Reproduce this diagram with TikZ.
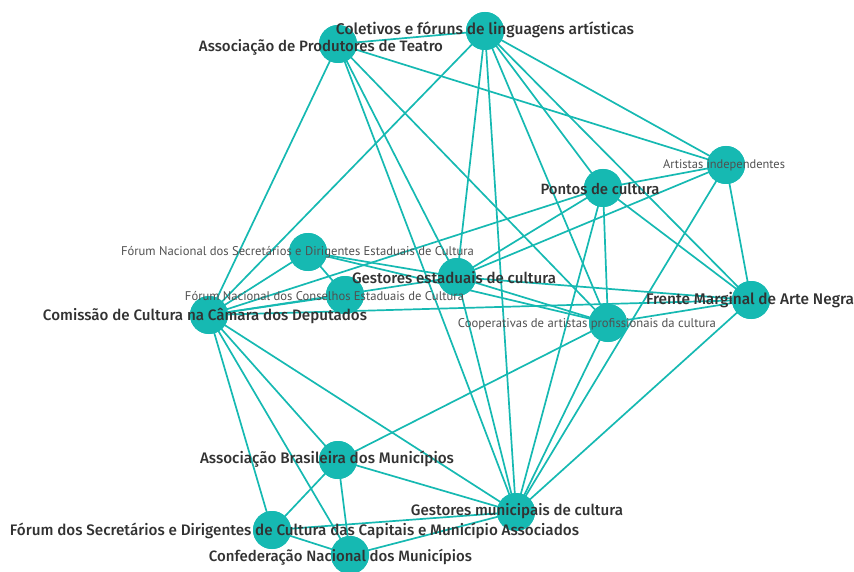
\documentclass[tikz,border=0pt]{standalone}
\usepackage{fontspec}
\usepackage{graphicx}
\setmainfont{Fira Sans}
\newfontfamily\medfont{Fira Sans Medium}
\newfontfamily\smallfont{PT Sans}
\definecolor{teal1}{RGB}{22,185,178}
\definecolor{bigtxt}{RGB}{50,50,50}
\definecolor{smalltxt}{RGB}{80,80,80}
\newcommand{\fitw}[2]{\resizebox{#1pt}{!}{#2}}
\begin{document}
\begin{tikzpicture}[x=1pt,y=-1pt,
  vert/.style={circle,fill=teal1,minimum size=38pt,inner sep=0pt},
  edge/.style={draw=teal1,line width=1.7pt},
  biglab/.style={inner sep=0pt,text=bigtxt,font=\medfont},
  smalllab/.style={inner sep=0pt,text=smalltxt,font=\smallfont}]
\useasboundingbox (0,0) rectangle (854,572);
\clip (0,0) rectangle (854,572);
% vertices
\node[vert] (APT) at (338,44) {};
\node[vert] (CFL) at (485,31) {};
\node[vert] (AI) at (726,165) {};
\node[vert] (PC) at (603,188) {};
\node[vert] (FNSD) at (308,252) {};
\node[vert] (GE) at (457,277) {};
\node[vert] (FNC) at (345,295) {};
\node[vert] (CCD) at (209,315) {};
\node[vert] (FMAN) at (751,300) {};
\node[vert] (CAP) at (608,323) {};
\node[vert] (ABM) at (338,460) {};
\node[vert] (GM) at (516,512) {};
\node[vert] (FSDC) at (272,530) {};
\node[vert] (CNM) at (350,555) {};
% edges
\foreach \a/\b in {APT/CFL,APT/AI,APT/CCD,APT/GM,APT/GE,APT/CAP,
  CFL/CCD,CFL/GE,CFL/GM,CFL/CAP,CFL/PC,CFL/FMAN,CFL/AI,
  PC/AI,PC/CCD,PC/GE,PC/CAP,PC/GM,PC/FMAN,
  AI/GE,AI/FMAN,AI/GM,
  FMAN/GE,FMAN/CCD,FMAN/CAP,FMAN/GM,
  CCD/FNSD,CCD/GE,CCD/FNC,CCD/ABM,CCD/FSDC,CCD/CNM,CCD/GM,
  FNSD/FNC,FNSD/GE,FNSD/CAP,GE/CAP,GE/GM,
  CAP/ABM,CAP/GM,ABM/GM,ABM/FSDC,ABM/CNM,FSDC/GM,FSDC/CNM,CNM/GM}
  \draw[edge] (\a.center) -- (\b.center);
% redraw vertices above edges
\foreach \v in {APT,CFL,AI,PC,FNSD,GE,FNC,CCD,FMAN,CAP,ABM,GM,FSDC,CNM}
  \fill[teal1] (\v.center) circle (19pt);
% labels
\node[biglab] (APTl) at (321,47) {\fitw{244}{Associação de Produtores de Teatro}};
\node[biglab] (CFLl) at (485,30) {\fitw{298}{Coletivos e fóruns de linguagens artísticas}};
\node[smalllab] (AIl) at (724,165) {\fitw{122}{Artistas independentes}};
\node[biglab] (PCl) at (600,189) {\fitw{119}{Pontos de cultura}};
\node[smalllab] (FNSDl) at (297.5,252) {\fitw{353}{Fórum Nacional dos Secretários e Dirigentes Estaduais de Cultura}};
\node[biglab] (GEl) at (454,278) {\fitw{204}{Gestores estaduais de cultura}};
\node[smalllab] (FNCl) at (324.5,296) {\fitw{279}{Fórum Nacional dos Conselhos Estaduais de Cultura}};
\node[biglab] (CCDl) at (205,316) {\fitw{324}{Comissão de Cultura na Câmara dos Deputados}};
\node[biglab] (FMANl) at (750,300) {\fitw{208}{Frente Marginal de Arte Negra}};
\node[smalllab] (CAPl) at (587,324) {\fitw{258}{Cooperativas de artistas profissionais da cultura}};
\node[biglab] (ABMl) at (327,459) {\fitw{254}{Associação Brasileira dos Municípios}};
\node[biglab] (GMl) at (517,511) {\fitw{212}{Gestores municipais de cultura}};
\node[biglab] (FSDCl) at (294.5,531) {\fitw{569}{Fórum dos Secretários e Dirigentes de Cultura das Capitais e Município Associados}};
\node[biglab] (CNMl) at (340.5,557) {\fitw{263}{Confederação Nacional dos Municípios}};
\end{tikzpicture}
\end{document}
